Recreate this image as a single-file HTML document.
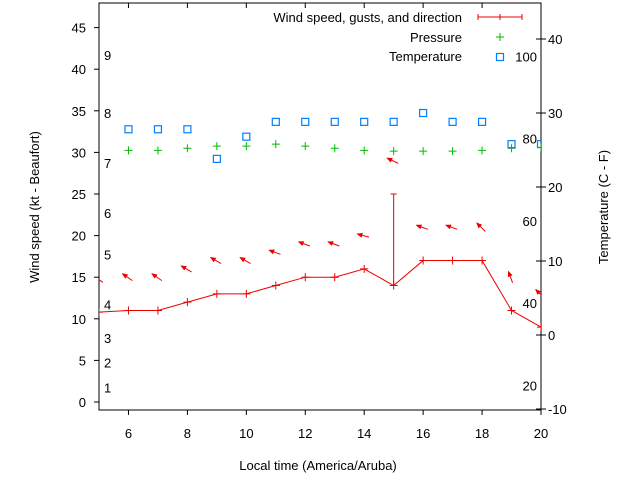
<!DOCTYPE html>
<html><head><meta charset="utf-8"><style>
body{margin:0;background:#fff}
svg{display:block;font-family:"Liberation Sans",sans-serif;font-size:13px}
</style></head><body>
<svg id="c" width="640" height="480"></svg>
<script>
const hours=[5,6,7,8,9,10,11,12,13,14,15,16,17,18,19,20];
const wind=[10.8,11,11,12,13,13,14,15,15,16,14,17,17,17,11,9];
const gust=[null,null,null,null,null,null,null,null,null,null,25,null,null,null,null,null];
const windDir=[145,145,145,150,150,150,160,160,160,165,155,160,160,135,110,135];
const pressHours=[6,7,8,9,10,11,12,13,14,15,16,17,18,19,20];
const pressure=[30.25,30.25,30.5,30.75,30.75,31.0,30.75,30.5,30.25,30.15,30.15,30.15,30.25,30.5,30.6];
const tempHours=[6,7,8,9,10,11,12,13,14,15,16,17,18,19,20];
const tempC=[27.8,27.8,27.8,23.8,26.8,28.8,28.8,28.8,28.8,28.8,30.0,28.8,28.8,25.8,25.8];
const leftTicks=[0,5,10,15,20,25,30,35,40,45];
const rightTicks=[-10,0,10,20,30,40];
const xTicks=[6,8,10,12,14,16,18,20];
const fLabels=[20,40,60,80,100];
const beaufortLabels=[1,2,3,4,5,6,7,8,9];
const beaufortKt=[1,4,7,11,17,22,28,34,41];

const L=99,R=541,T=3,B=410;
const X=h=>L+(h-5)*(R-L)/15;
const Y=v=>402-v*8.32;
const Yc=c=>335-c*7.4;
const svg=document.getElementById('c');
const NS='http://www.w3.org/2000/svg';
function mk(tag,a,parent){const e=document.createElementNS(NS,tag);for(const k in a)e.setAttribute(k,a[k]);(parent||svg).appendChild(e);return e;}
function txt(s,x,y,anchor,name){const t=mk('text',{x:x,y:y,'text-anchor':anchor||'middle'});t.textContent=s;


return t;}

const frame=mk('rect',{x:L,y:T,width:R-L,height:B-T,fill:'none',stroke:'#000','stroke-width':1});



leftTicks.forEach(v=>{const y=Y(v);mk('line',{x1:L-5,y1:y,x2:L,y2:y,stroke:'#000'});
txt(String(v),86,y+5,'end','y-left-tick-label');});
rightTicks.forEach(v=>{const y=Yc(v);mk('line',{x1:R-5,y1:y,x2:R+5,y2:y,stroke:'#000'});
txt(String(v),548,y+5,'start','y-right-tick-label');});
xTicks.forEach(h=>{const x=X(h);mk('line',{x1:x,y1:B,x2:x,y2:B+5,stroke:'#000'});mk('line',{x1:x,y1:T,x2:x,y2:T+5,stroke:'#000'});
txt(String(h),x,438,'middle','x-tick-label');});
fLabels.forEach(f=>{const c=(f-32)*5/9;txt(String(f),537,Yc(c)+6,'end','fahrenheit-label');});
beaufortLabels.forEach((b,i)=>{txt(String(b),104,Y(beaufortKt[i])-1,'start','beaufort-label');});

const clip=mk('clipPath',{id:'cp'});mk('rect',{x:L,y:T,width:R-L,height:B-T},clip);
const g=mk('g',{'clip-path':'url(#cp)'});
const wl=mk('polyline',{points:hours.map((h,i)=>X(h)+','+Y(wind[i])).join(' '),fill:'none',stroke:'#e00','stroke-width':1},g);


hours.forEach((h,i)=>{const x=X(h),y=Y(wind[i]);
const p=mk('path',{d:`M${x-4},${y}H${x+4}M${x},${y-4}V${y+4}`,stroke:'#e00'},g);


if(gust[i]!=null){const gl=mk('path',{d:`M${x},${y}V${Y(gust[i])}M${x-3},${Y(gust[i])}H${x+3}`,stroke:'#e00'},g);

}
const top=Math.max(wind[i],gust[i]||0)+4;const cy=Y(top);
const a=windDir[i]*Math.PI/180;const ux=Math.cos(a),uy=-Math.sin(a);
const x1=x-1+ux*6,y1=cy+uy*6,x0=x-1-ux*6,y0=cy-uy*6;
const ar=mk('g',{},g);


mk('line',{x1:x0,y1:y0,x2:x1,y2:y1,stroke:'#e00'},ar);
const px=-uy,py=ux;
mk('polygon',{points:`${x1+ux*1},${y1+uy*1} ${x1-ux*5+px*2.5},${y1-uy*5+py*2.5} ${x1-ux*5-px*2.5},${y1-uy*5-py*2.5}`,fill:'#e00'},ar);
});
pressHours.forEach((h,i)=>{const x=X(h),y=Y(pressure[i]);
const p=mk('path',{d:`M${x-4},${y}H${x+4}M${x},${y-4}V${y+4}`,stroke:'#0b0'},g);

});
tempHours.forEach((h,i)=>{const x=X(h),y=Yc(tempC[i]);
const r=mk('rect',{x:x-3.5,y:y-3.5,width:7,height:7,fill:'none',stroke:'#0080ff','stroke-width':1.2},g);

});

txt('Wind speed, gusts, and direction',462,22,'end','legend-wind-label');
const lw=mk('path',{d:'M478,17H522M478,14V20M522,14V20M500,14V20',stroke:'#e00'});


txt('Pressure',462,42,'end','legend-pressure-label');
mk('path',{d:'M496,37H504M500,33V41',stroke:'#0b0'});
txt('Temperature',462,61,'end','legend-temperature-label');
mk('rect',{x:496.5,y:53.5,width:7,height:7,fill:'none',stroke:'#0080ff','stroke-width':1.2});

txt('Local time (America/Aruba)',318,470,'middle','x-axis-title');
const yl=txt('Wind speed (kt - Beaufort)',0,0,'middle','y-left-axis-title');yl.setAttribute('transform','translate(39,207) rotate(-90)');
const yr=txt('Temperature (C - F)',0,0,'middle','y-right-axis-title');yr.setAttribute('transform','translate(608,207) rotate(-90)');
</script>
</body></html>
